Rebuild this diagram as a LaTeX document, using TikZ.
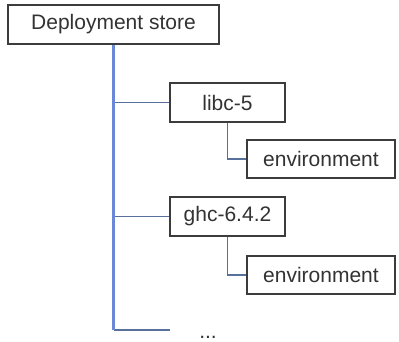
\documentclass[tikz,border=0pt]{standalone}
\usepackage{fontspec}
\setmainfont{Liberation Sans}
\definecolor{boxline}{HTML}{3C3C3C}
\definecolor{boxtext}{HTML}{333333}
\definecolor{trunk}{HTML}{6A88D6}
\definecolor{branch}{HTML}{58719C}
\begin{document}
\begin{tikzpicture}[x=1pt,y=-1pt,
  item/.style={draw=boxline,line width=1.8pt,fill=white,text=boxtext,
    inner sep=0pt,minimum height=39pt,
    font=\fontsize{21}{25}\selectfont},
  trunkline/.style={draw=trunk,line width=2.2pt},
  branchline/.style={draw=branch,line width=1.8pt}]
\useasboundingbox (0,0) rectangle (399,341);
% tree nodes
\node[item,minimum width=211pt] (store) at (113.5,24.5) {Deployment store};
\node[item,minimum width=115pt] (libc) at (227.5,102.5) {libc-5};
\node[item,minimum width=148pt,minimum height=38pt] (env1) at (321,159) {environment};
\node[item,minimum width=115pt] (ghc) at (227.5,216.5) {ghc-6.4.2};
\node[item,minimum width=148pt,minimum height=38pt] (env2) at (321,275) {environment};
\node[text=boxtext,inner sep=0pt,font=\fontsize{21}{25}\selectfont,anchor=base] (more) at (208,338) {...};
\coordinate (last) at (170,330);
% connectors
\draw[branchline] (store.south |- libc.west) -- (libc.west);
\draw[branchline] (store.south |- ghc.west) -- (ghc.west);
\draw[branchline] (store.south |- last) -- (last);
\draw[trunkline] (store.south) -- (store.south |- last);
\draw[branchline] (libc.south) |- (env1.west);
\draw[branchline] (ghc.south) |- (env2.west);
\end{tikzpicture}
\end{document}
